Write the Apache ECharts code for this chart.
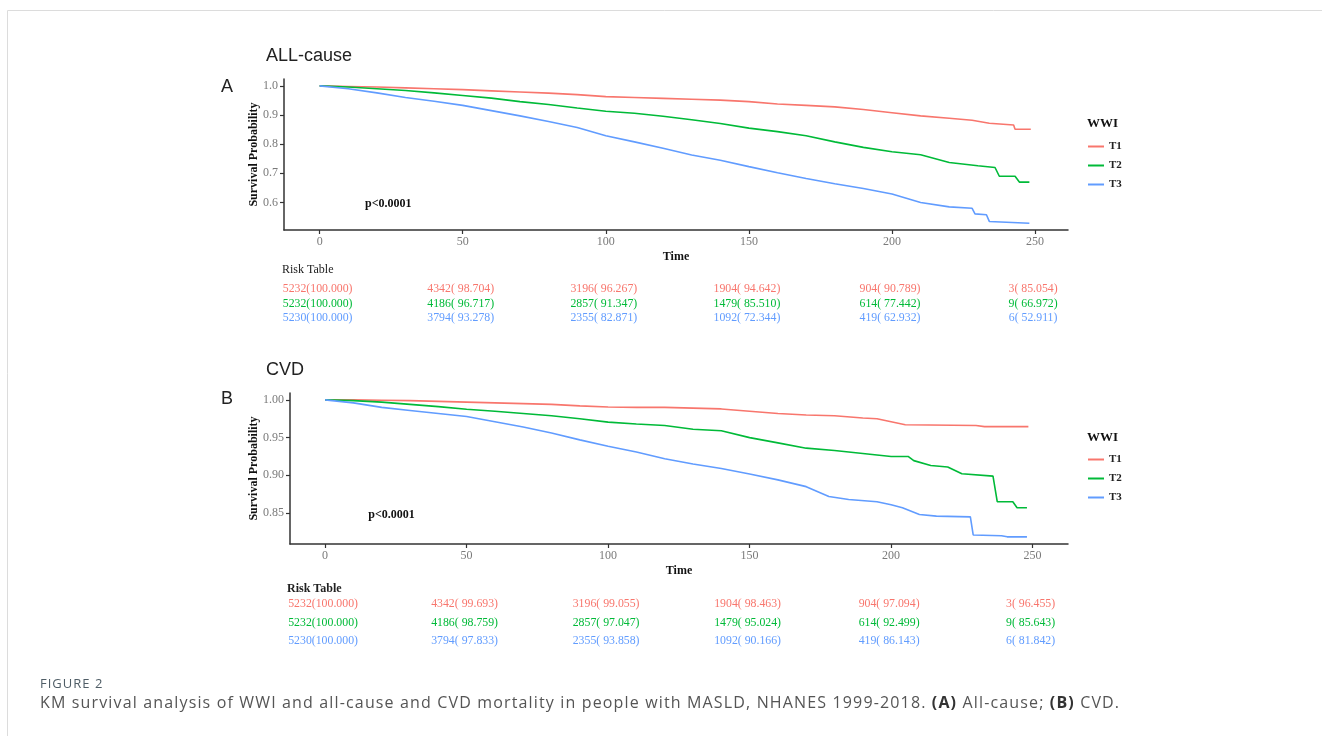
<!DOCTYPE html>
<html>
<head>
<meta charset="utf-8">
<script src="https://cdn.jsdelivr.net/npm/echarts@6/dist/echarts.min.js"></script>
<style>
  html, body { margin: 0; padding: 0; background: #fff; }
  #wrap { position: relative; width: 1322px; height: 736px; }
  #chart { position: absolute; left: 0; top: 0; width: 1322px; height: 736px; }
  .caption { position: absolute; left: 40px; font-family: "Open Sans", sans-serif; white-space: nowrap; }
  #figLabel { top: 674px; font-size: 13px; letter-spacing: 1px; color: #4f5d66; }
  #figText { top: 691px; font-size: 16px; letter-spacing: 1.15px; color: #555; }
  #figText b { color: #333; }
</style>
</head>
<body>
<div id="wrap">
  <div id="chart"></div>
  <div class="caption" id="figLabel">FIGURE 2</div>
  <div class="caption" id="figText">KM survival analysis of WWI and all-cause and CVD mortality in people with MASLD, NHANES 1999-2018. <b>(A)</b> All-cause; <b>(B)</b> CVD.</div>
</div>
<script>
// Groups and palette (ggplot hue defaults)
const groups = ['T1', 'T2', 'T3'];
const colors = ['#F8766D', '#00BA38', '#619CFF'];
const timeTicks = [0, 50, 100, 150, 200, 250];

// All-cause survival curves: [time, survival probability]
const allT1 = [[0,1],[10,0.998],[20,0.996],[30,0.993],[40,0.990],[50,0.987],[60,0.983],[70,0.979],[80,0.975],[90,0.970],[100,0.963],[110,0.960],[120,0.957],[130,0.954],[140,0.951],[150,0.946],[160,0.938],[170,0.933],[180,0.928],[190,0.919],[200,0.908],[210,0.897],[220,0.889],[228,0.882],[234,0.872],[242.5,0.866],[243,0.851],[248.5,0.851]];
const allT2 = [[0,1],[10,0.996],[20,0.990],[30,0.984],[40,0.976],[50,0.967],[60,0.958],[70,0.946],[80,0.936],[90,0.924],[100,0.913],[110,0.906],[120,0.896],[130,0.884],[140,0.871],[150,0.855],[160,0.843],[170,0.829],[180,0.808],[190,0.789],[200,0.774],[210,0.764],[220,0.737],[230,0.726],[236,0.720],[237.5,0.690],[243,0.690],[244.5,0.670],[248,0.670]];
const allT3 = [[0,1],[10,0.990],[20,0.976],[30,0.960],[40,0.947],[50,0.933],[60,0.915],[70,0.897],[80,0.878],[90,0.857],[100,0.829],[110,0.808],[120,0.786],[130,0.763],[140,0.745],[150,0.723],[160,0.702],[170,0.682],[180,0.664],[190,0.648],[200,0.629],[210,0.600],[220,0.585],[228,0.580],[229,0.561],[233,0.558],[234,0.535],[248,0.529]];

// CVD survival curves: [time, survival probability]
const cvdT1 = [[0,1],[10,1.0],[20,0.9995],[30,0.999],[40,0.998],[50,0.997],[60,0.996],[70,0.995],[80,0.994],[90,0.992],[100,0.9905],[110,0.990],[120,0.990],[130,0.989],[140,0.988],[150,0.985],[160,0.982],[170,0.980],[180,0.979],[190,0.976],[195,0.975],[200,0.971],[205,0.967],[230,0.966],[233,0.9645],[248.5,0.9645]];
const cvdT2 = [[0,1],[10,0.999],[20,0.997],[30,0.994],[40,0.991],[50,0.9876],[60,0.985],[70,0.982],[80,0.979],[90,0.975],[100,0.9705],[110,0.968],[120,0.966],[130,0.961],[140,0.959],[150,0.950],[160,0.943],[170,0.936],[180,0.933],[190,0.929],[200,0.925],[206,0.925],[208,0.9195],[214,0.913],[220,0.911],[225,0.902],[236,0.899],[237.5,0.865],[243,0.865],[244.5,0.857],[248,0.857]];
const cvdT3 = [[0,1],[10,0.996],[20,0.990],[30,0.986],[40,0.982],[50,0.978],[60,0.971],[70,0.964],[80,0.956],[90,0.947],[100,0.9386],[110,0.931],[120,0.922],[130,0.915],[140,0.909],[150,0.9017],[160,0.894],[170,0.885],[178,0.872],[185,0.868],[195,0.865],[200,0.861],[204,0.857],[210,0.848],[216,0.846],[228,0.845],[229,0.821],[239,0.820],[241,0.8185],[248,0.8185]];

// Numbers at risk (survival %) at each time tick
const allRiskN = [[5232,4342,3196,1904,904,3],[5232,4186,2857,1479,614,9],[5230,3794,2355,1092,419,6]];
const allRiskPct = [[100.000,98.704,96.267,94.642,90.789,85.054],[100.000,96.717,91.347,85.510,77.442,66.972],[100.000,93.278,82.871,72.344,62.932,52.911]];
const cvdRiskN = [[5232,4342,3196,1904,904,3],[5232,4186,2857,1479,614,9],[5230,3794,2355,1092,419,6]];
const cvdRiskPct = [[100.000,99.693,99.055,98.463,97.094,96.455],[100.000,98.759,97.047,95.024,92.499,85.643],[100.000,97.833,93.858,90.166,86.143,81.842]];

// Log-rank p-value label positions, in data coordinates
const pvalText = 'p<0.0001';
const allPvalAt = [24, 0.596];
const cvdPvalAt = [23.5, 0.848];

const allTicksY = [0.6, 0.7, 0.8, 0.9, 1.0];
const cvdTicksY = [0.85, 0.90, 0.95, 1.00];

const SERIF = '"Liberation Serif", "DejaVu Serif", serif';
const SANS = '"Liberation Sans", Arial, sans-serif';

function xAxisFor(gridIndex, min, max) {
  return {
    type: 'value', gridIndex, min, max,
    name: 'Time', nameLocation: 'middle', nameGap: 21, nameMoveOverlap: false,
    nameTextStyle: { fontFamily: SERIF, fontWeight: 'bold', fontSize: 12, color: '#111' },
    axisLine: { show: true, onZero: false, lineStyle: { color: '#333', width: 1.5 } },
    axisTick: { show: true, length: 4, customValues: timeTicks, lineStyle: { color: '#333', width: 1.2 } },
    axisLabel: { customValues: timeTicks, margin: 6, fontFamily: SERIF, fontSize: 12, color: '#7a7a7a' },
    splitLine: { show: false }
  };
}
function yAxisFor(gridIndex, min, max, ticks, digits, nameGap) {
  return {
    type: 'value', gridIndex, min, max,
    name: 'Survival Probability', nameLocation: 'middle', nameGap, nameRotate: 90, nameMoveOverlap: false,
    nameTextStyle: { fontFamily: SERIF, fontWeight: 'bold', fontSize: 12, color: '#111' },
    axisLine: { show: true, onZero: false, lineStyle: { color: '#333', width: 1.5 } },
    axisTick: { show: true, length: 4, customValues: ticks, lineStyle: { color: '#333', width: 1.2 } },
    axisLabel: { customValues: ticks, margin: 6, fontFamily: SERIF, fontSize: 12, color: '#7a7a7a',
                 formatter: v => v.toFixed(digits) },
    splitLine: { show: false }
  };
}
function curve(name, data, idx, color) {
  return {
    type: 'line', name, data, xAxisIndex: idx, yAxisIndex: idx,
    showSymbol: false, symbol: 'none', lineStyle: { color, width: 1.6 }, itemStyle: { color },
    silent: true, animation: false
  };
}
function legendFor(top) {
  return {
    data: groups, orient: 'vertical', left: 1083, top, itemGap: 0,
    icon: 'rect', itemWidth: 16, itemHeight: 2, selectedMode: false,
    textStyle: { fontFamily: SERIF, fontWeight: 'bold', fontSize: 11, color: '#222', lineHeight: 19 }
  };
}

const chart = echarts.init(document.getElementById('chart'), null, { renderer: 'canvas' });
chart.setOption({
  animation: false,
  backgroundColor: 'transparent',
  grid: [
    { left: 284, top: 79, width: 784, height: 151 },
    { left: 290, top: 393, width: 778, height: 151 }
  ],
  xAxis: [ xAxisFor(0, -12.45, 261.5), xAxisFor(1, -12.4, 262.5) ],
  yAxis: [ yAxisFor(0, 0.5056, 1.0236, allTicksY, 1, 24), yAxisFor(1, 0.809, 1.0091, cvdTicksY, 2, 30) ],
  legend: [ legendFor(132), legendFor(445) ],
  series: [
    curve('T1', allT1, 0, colors[0]),
    curve('T2', allT2, 0, colors[1]),
    curve('T3', allT3, 0, colors[2]),
    curve('T1', cvdT1, 1, colors[0]),
    curve('T2', cvdT2, 1, colors[1]),
    curve('T3', cvdT3, 1, colors[2])
  ]
});

// Text overlay: titles, p-values, risk tables, legend titles
function fmtRisk(n, pct) {
  let p = pct.toFixed(3);
  while (p.length < 7) p = ' ' + p;
  return n + '(' + p + ')';
}
function riskTable(gridIndex, counts, pcts, rowYs, labelPos, labelBold) {
  const items = [{
    type: 'text', x: labelPos[0], y: labelPos[1],
    style: { text: 'Risk Table', fontFamily: SERIF, fontSize: 12, fontWeight: labelBold ? 'bold' : 'normal', fill: '#222',
             textVerticalAlign: 'middle' }
  }];
  counts.forEach((row, g) => {
    row.forEach((n, k) => {
      const px = chart.convertToPixel({ xAxisIndex: gridIndex }, timeTicks[k]);
      items.push({
        type: 'text', x: px - 2, y: rowYs[g],
        style: { text: fmtRisk(n, pcts[g][k]), fontFamily: SERIF, fontSize: 11.8, fill: colors[g],
                 textAlign: 'center', textVerticalAlign: 'middle' }
      });
    });
  });
  return items;
}
function pval(gridIndex, at) {
  const p = chart.convertToPixel({ gridIndex }, at);
  return { type: 'text', x: p[0], y: p[1],
    style: { text: pvalText, fontFamily: SERIF, fontWeight: 'bold', fontSize: 12, fill: '#111',
             textAlign: 'center', textVerticalAlign: 'middle' } };
}
function heading(text, x, y) {
  return { type: 'text', x, y, style: { text, fontFamily: SANS, fontSize: 18, fill: '#222', textVerticalAlign: 'middle' } };
}

const overlay = [
  { type: 'line', shape: { x1: 7.5, y1: 10.5, x2: 1322, y2: 10.5 }, style: { stroke: '#dcdcdc', lineWidth: 1 } },
  { type: 'line', shape: { x1: 7.5, y1: 10.5, x2: 7.5, y2: 736 }, style: { stroke: '#dcdcdc', lineWidth: 1 } },
  heading('ALL-cause', 266, 56),
  heading('A', 221, 87),
  heading('CVD', 266, 370),
  heading('B', 221, 399),
  pval(0, allPvalAt),
  pval(1, cvdPvalAt),
  { type: 'text', x: 1087, y: 124, style: { text: 'WWI', fontFamily: SERIF, fontWeight: 'bold', fontSize: 13, fill: '#111', textVerticalAlign: 'middle' } },
  { type: 'text', x: 1087, y: 438, style: { text: 'WWI', fontFamily: SERIF, fontWeight: 'bold', fontSize: 13, fill: '#111', textVerticalAlign: 'middle' } },
  ...riskTable(0, allRiskN, allRiskPct, [289, 303.5, 318], [282, 270], false),
  ...riskTable(1, cvdRiskN, cvdRiskPct, [604, 622.5, 641], [287, 589], true)
];
chart.setOption({ graphic: overlay });
</script>
</body>
</html>
